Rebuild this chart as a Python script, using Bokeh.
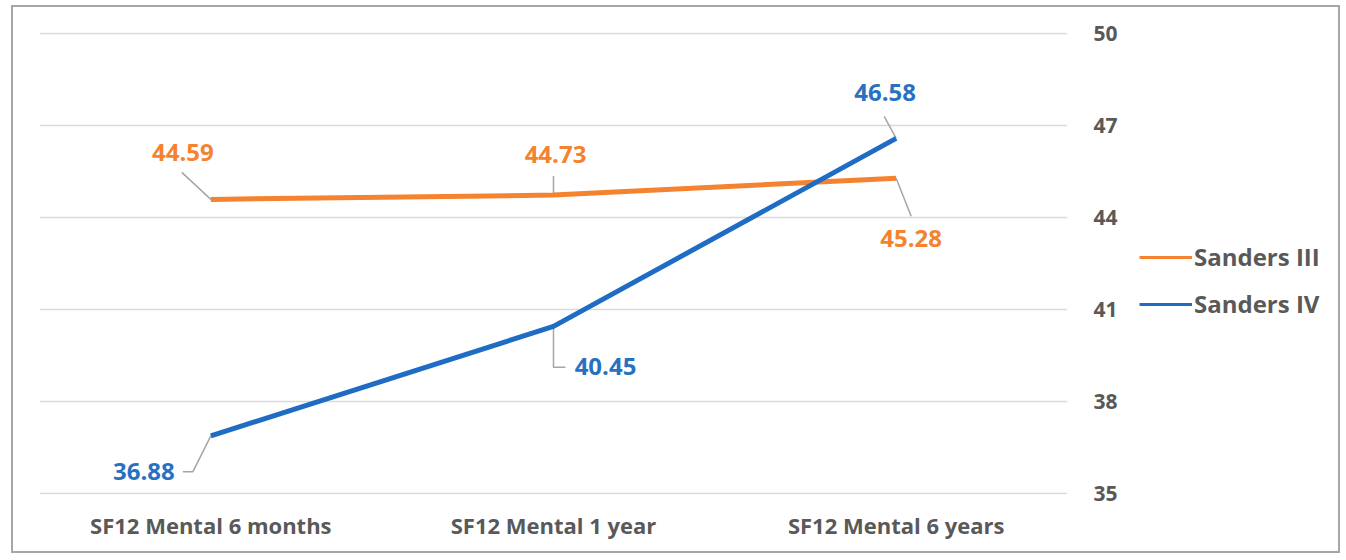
from bokeh.plotting import figure
from bokeh.layouts import row
from bokeh.models import FixedTicker, Legend, LegendItem, ColumnDataSource
from bokeh.core.properties import value
from bokeh.embed import file_html
from bokeh.resources import INLINE

# ---- data ----
categories = ["SF12 Mental 6 months", "SF12 Mental 1 year", "SF12 Mental 6 years"]
series_names = ["Sanders III", "Sanders IV"]
sanders_iii = [44.59, 44.73, 45.28]
sanders_iv = [36.88, 40.45, 46.58]
y_ticks = [35, 38, 41, 44, 47, 50]

# ---- styles / layout ----
ORANGE = "#F5822E"
BLUE = "#1F6CC4"
ORANGE_TXT = "#F5822E"
BLUE_TXT = "#2A70C2"
GRAY_TXT = "#595959"
FONT = "Open Sans"

FRAME_W = 1028
YPX = 460 / 15.0
EPS = 1.0 / YPX
Y0, Y1 = 35 - EPS, 50 + EPS
FRAME_H = 462
XPX = FRAME_W / 3.0

BORDER = 2
CANVAS_W, CANVAS_H = 1325, 544
B_LEFT, B_TOP = 26, 25
B_RIGHT = 60
B_BOTTOM = CANVAS_H - B_TOP - FRAME_H
MAIN_W = B_LEFT + FRAME_W + B_RIGHT
LEG_W = CANVAS_W - MAIN_W

# label offsets (pixels, y down) and leader line paths (pixels, y down)
iii_text_off = [(-28, -47), (2, -41), (15, 60)]
iii_leader = [[(0, 0), (-29, -27)], [(0, -1), (0, -19)], [(0, 0), (15, 38)]]
iv_text_off = [(-67, 36), (52, 40), (-11, -46)]
iv_leader = [[(0, 0), (-18, 36), (-28, 36)], [(0, 0), (0, 41), (12, 41)], [(0, 0), (-12, -22)]]

p = figure(frame_width=FRAME_W, frame_height=FRAME_H, x_range=(-0.5, 2.5), y_range=(Y0, Y1),
           output_backend="svg", toolbar_location=None, y_axis_location="right",
           min_border_left=B_LEFT, min_border_top=B_TOP, min_border_bottom=B_BOTTOM,
           min_border_right=B_RIGHT)
p.outline_line_color = None
p.background_fill_color = "white"
p.border_fill_color = "white"

xs = list(range(len(categories)))

def leaders(vals, paths):
    lx, ly = [], []
    for i, (v, path) in enumerate(zip(vals, paths)):
        lx.append([xs[i] + dx / XPX for dx, dy in path])
        ly.append([v - dy / YPX for dx, dy in path])
    return lx, ly

for vals, paths in ((sanders_iii, iii_leader), (sanders_iv, iv_leader)):
    lx, ly = leaders(vals, paths)
    p.multi_line(lx, ly, line_color="#a6a6a6", line_width=1.5)

p.line(xs, sanders_iii, line_color=ORANGE, line_width=5)
p.line(xs, sanders_iv, line_color=BLUE, line_width=5)

for vals, offs, col in ((sanders_iii, iii_text_off, ORANGE_TXT), (sanders_iv, iv_text_off, BLUE_TXT)):
    src = ColumnDataSource(dict(x=xs, y=vals, t=["%.2f" % v for v in vals],
                                xo=[o[0] for o in offs], yo=[o[1] for o in offs]))
    p.text(x="x", y="y", text="t", x_offset="xo", y_offset="yo", source=src,
           text_color=col, text_font=value(FONT), text_font_style="bold",
           text_font_size="24px", text_align="center", text_baseline="middle")

# axes
p.xaxis.ticker = FixedTicker(ticks=xs)
p.xaxis.major_label_overrides = {i: c for i, c in enumerate(categories)}
p.yaxis.ticker = FixedTicker(ticks=y_ticks)
for ax in (p.xaxis, p.yaxis):
    ax.axis_line_color = None
    ax.major_tick_line_color = None
    ax.minor_tick_line_color = None
    ax.major_label_text_color = GRAY_TXT
    ax.major_label_text_font = FONT
    ax.major_label_text_font_style = "bold"
p.xaxis.major_label_text_font_size = "22px"
p.xaxis.major_label_standoff = 9
p.yaxis.major_label_text_font_size = "21px"
p.yaxis.major_label_standoff = 20

p.xgrid.grid_line_color = None
p.ygrid.grid_line_color = "#d9d9d9"
p.ygrid.grid_line_width = 1.5

# ---- legend panel (separate small figure to the right) ----
lf = figure(width=LEG_W, height=CANVAS_H, x_range=(0, 1), y_range=(0, 1),
            output_backend="svg", toolbar_location=None,
            x_axis_location=None, y_axis_location=None, min_border=0)
lf.outline_line_color = None
lf.xgrid.visible = False
lf.ygrid.visible = False
lf.background_fill_color = "white"
lf.border_fill_color = "white"
g1 = lf.line([-9, -8], [0, 0], line_color=ORANGE, line_width=3)
g2 = lf.line([-9, -8], [0, 0], line_color=BLUE, line_width=3)
legend = Legend(items=[LegendItem(label=series_names[0], renderers=[g1]),
                       LegendItem(label=series_names[1], renderers=[g2])],
                location=(1139 - (13 + MAIN_W), 174), orientation="vertical",
                glyph_width=53, glyph_height=30, label_height=30, label_standoff=2,
                spacing=14, padding=0, margin=0, border_line_color=None,
                background_fill_alpha=0,
                label_text_font=FONT, label_text_font_style="bold",
                label_text_font_size="24px", label_text_color=GRAY_TXT)
lf.add_layout(legend, "center")

layout = row(p, lf, spacing=0,
             styles={"border": "%dpx solid #a6a6a6" % BORDER, "margin-left": "11px",
                     "margin-top": "5px", "background-color": "white"})

open("out.html", "w").write(file_html(layout, INLINE))
